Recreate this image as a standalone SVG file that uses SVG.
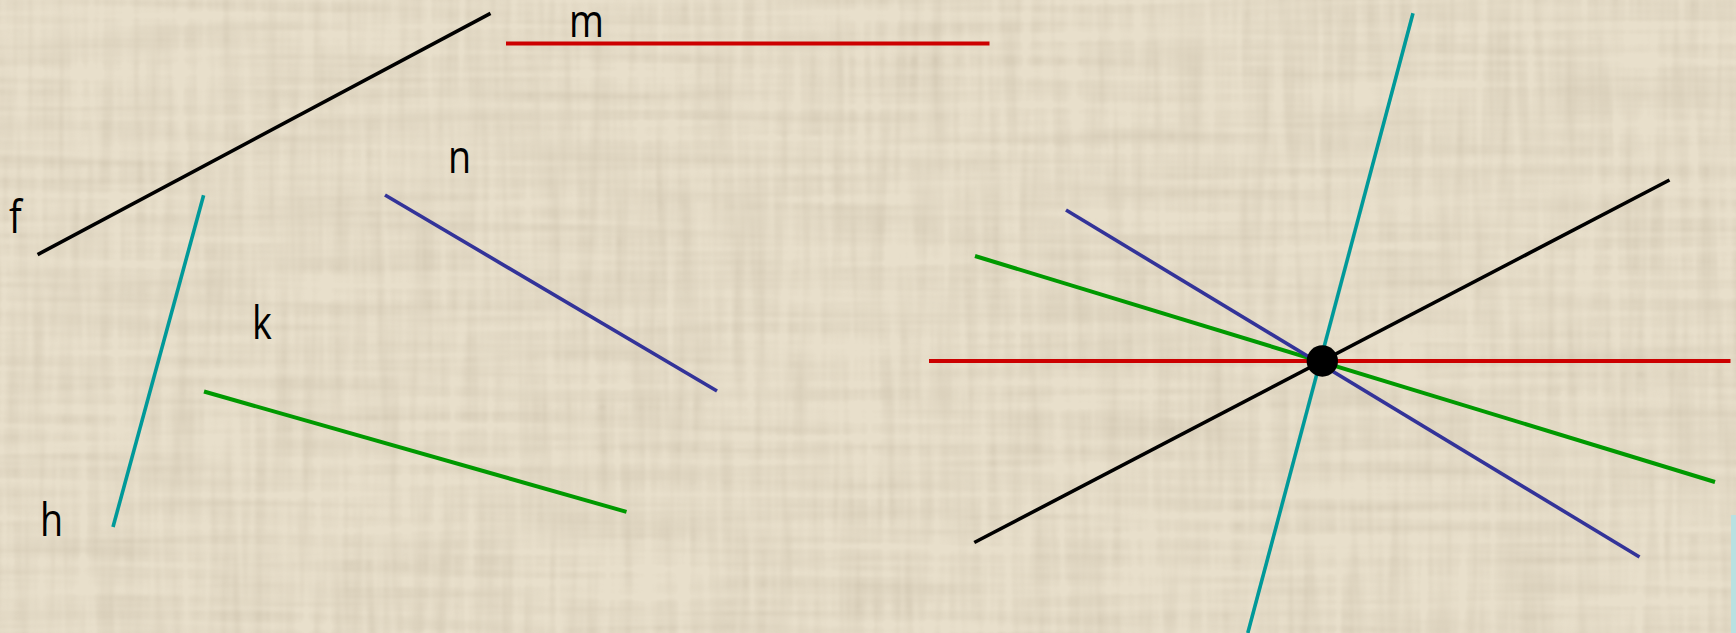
<svg xmlns="http://www.w3.org/2000/svg" width="1736" height="633" viewBox="0 0 1736 633">
<defs>
<filter id="tex" x="0" y="0" width="100%" height="100%">
<feTurbulence type="fractalNoise" baseFrequency="0.004 0.09" numOctaves="2" seed="3" result="v"/>
<feTurbulence type="fractalNoise" baseFrequency="0.09 0.006" numOctaves="2" seed="7" result="h"/>
<feComposite in="v" in2="h" operator="arithmetic" k2="0.5" k3="0.5" result="n"/>
<feColorMatrix in="n" type="matrix" values="0 0 0 0 0.55  0 0 0 0 0.48  0 0 0 0 0.36  -1.8 0 0 0 1.15"/>
</filter>
</defs>
<style>
.ln{fill:none;stroke-width:3.6;stroke-linecap:butt}
.f{stroke:#000}
.m{stroke:#cc0000;stroke-width:4}
.n{stroke:#333399}
.k{stroke:#009900;stroke-width:4}
.h{stroke:#009999}
.lbl{font-family:"Open Sans","Noto Sans",sans-serif;font-size:46px;fill:#000}
</style>
<rect width="1736" height="633" fill="#e8dfcb"/>
<rect width="1736" height="633" filter="url(#tex)" opacity="0.6"/>
<rect x="1731" y="515" width="5" height="118" fill="#b9e1e1"/>
<g id="connectors">
<line class="ln f" x1="37.6" y1="254.6" x2="490.5" y2="13.3"/>
<line class="ln m" x1="506" y1="43.5" x2="989.5" y2="43.5"/>
<line class="ln h" x1="203.6" y1="195.3" x2="113" y2="527"/>
<line class="ln n" x1="385" y1="195" x2="717" y2="391"/>
<line class="ln k" x1="204" y1="391.5" x2="626.5" y2="511.8"/>
<line class="ln m" x1="929" y1="361" x2="1730.5" y2="361"/>
<line class="ln k" x1="975" y1="256" x2="1715" y2="482"/>
<line class="ln n" x1="1066" y1="210" x2="1639.5" y2="557"/>
<line class="ln f" x1="1669.5" y1="180" x2="974.3" y2="542.5"/>
<line class="ln h" x1="1413" y1="13.3" x2="1247.8" y2="633"/>
</g>
<g id="point"><circle cx="1322.3" cy="361" r="15.7" fill="#000"/></g>
<g id="label-f"><text class="lbl" transform="translate(9,233) scale(0.82,1)">f</text></g>
<g id="label-m"><text class="lbl" transform="translate(569,36.7) scale(0.82,1)">m</text></g>
<g id="label-n"><text class="lbl" transform="translate(448,172.7) scale(0.82,1)">n</text></g>
<g id="label-k"><text class="lbl" transform="translate(252,339) scale(0.82,1)">k</text></g>
<g id="label-h"><text class="lbl" transform="translate(40,536) scale(0.82,1)">h</text></g>
</svg>
